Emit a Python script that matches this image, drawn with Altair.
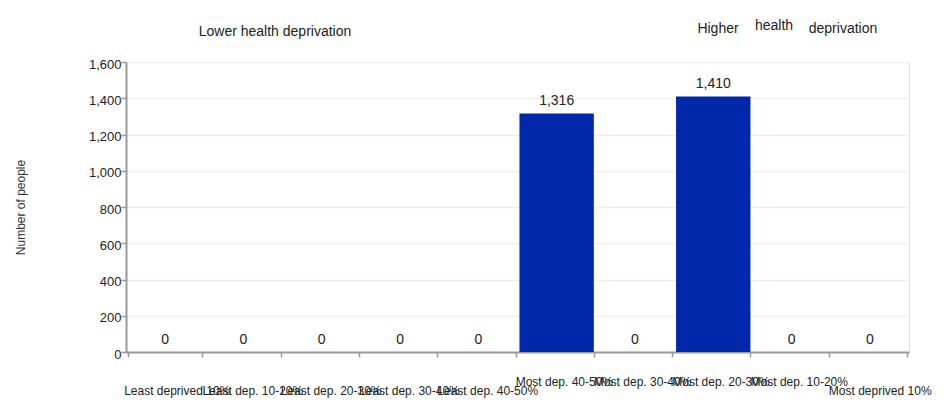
import altair as alt
import pandas as pd

categories = [
    "Least deprived 10%", "Least dep. 10-20%", "Least dep. 20-30%",
    "Least dep. 30-40%", "Least dep. 40-50%", "Most dep. 40-50%",
    "Most dep. 30-40%", "Most dep. 20-30%", "Most dep. 10-20%",
    "Most deprived 10%",
]
values = [0, 0, 0, 0, 0, 1316, 0, 1410, 0, 0]
label_row = ["low", "low", "low", "low", "low", "high", "high", "high", "high", "low"]
y_ticks = [0, 200, 400, 600, 800, 1000, 1200, 1400, 1600]

headers = ["Lower health deprivation", "Higher", "health", "deprivation"]

df = pd.DataFrame({"cat": categories, "value": values, "row": label_row})

W, H = 783, 290
FONT = "Liberation Sans"

xscale = alt.Scale(domain=categories, paddingInner=0.05, paddingOuter=0.025)
yscale = alt.Scale(domain=[0, 1600], nice=False)

yaxis = alt.Axis(values=y_ticks, format=",.0f", labelOverlap=False,
                 title="Number of people",
                 titleFont=FONT, titleFontSize=12, titleFontWeight="normal",
                 titleColor="#333333", titleAngle=270, titleX=-106, titleY=H / 2,
                 titleAlign="center", titleBaseline="middle",
                 labelFont=FONT, labelFontSize=13, labelColor="#222222",
                 labelPadding=0, labelBaseline="middle", labelOffset=2,
                 gridColor="#eeeeee", gridWidth=1.5,
                 domainColor="#999999", domainWidth=2, tickColor="#999999",
                 tickWidth=1.5, tickSize=5)
xaxis = alt.Axis(title=None, labels=False, tickBand="extent", grid=False,
                 domainColor="#999999", domainWidth=2, tickColor="#999999",
                 tickWidth=1.5, tickSize=5)

X = alt.X("cat:N", sort=categories, scale=xscale, axis=xaxis)
Y = alt.Y("value:Q", scale=yscale, axis=yaxis)

base = alt.Chart(df)

bars = base.mark_bar(color="#0028aa").encode(x=X, y=Y)

value_labels = base.mark_text(font=FONT, fontSize=14, color="#222222",
                              baseline="alphabetic", dy=-8).encode(
    x=X, y=Y, text=alt.Text("value:Q", format=","),
)

low_labels = base.transform_filter(alt.datum.row == "low").mark_text(
    font=FONT, fontSize=12, color="#222222", align="left", baseline="alphabetic", dx=-41
).encode(x=X, y=alt.value(H + 43), text="cat:N")

high_labels = base.transform_filter(alt.datum.row == "high").mark_text(
    font=FONT, fontSize=12, color="#222222", align="left", baseline="alphabetic", dx=-41
).encode(x=X, y=alt.value(H + 34), text="cat:N")

hdr_df = pd.DataFrame({"t": headers})
def header(i, x, y):
    return alt.Chart(hdr_df).transform_filter(alt.datum.t == headers[i]).mark_text(
        font=FONT, fontSize=14, color="#222222", align="center", baseline="alphabetic"
    ).encode(x=alt.value(x), y=alt.value(y), text="t:N")

hdrs = [header(0, 149, -26), header(1, 592, -29), header(2, 648, -32), header(3, 717, -29)]

chart = alt.layer(bars, value_labels, low_labels, high_labels, *hdrs).properties(
    width=W, height=H,
    autosize=alt.AutoSizeParams(type="none"),
    padding={"left": 118, "top": 54, "right": 30, "bottom": 46},
).configure_view(strokeWidth=0).configure(background="white")

chart.save("out.html", embed_options={"renderer": "svg", "actions": False})
